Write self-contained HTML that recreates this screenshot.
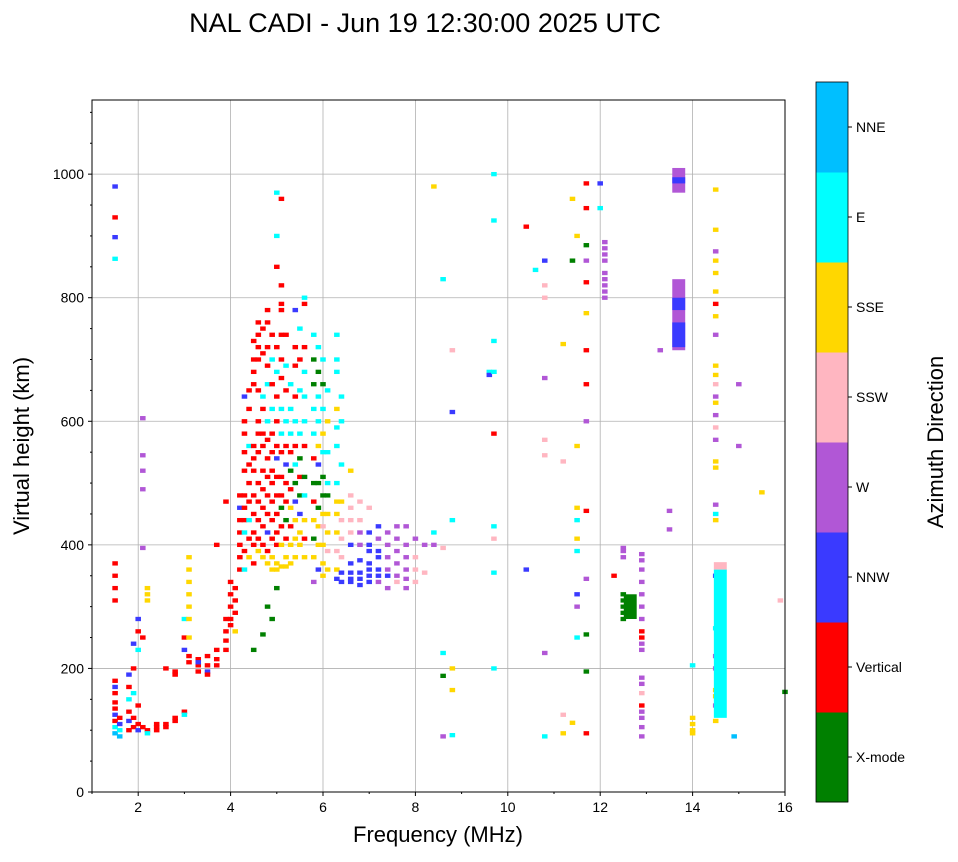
<!DOCTYPE html>
<html><head><meta charset="utf-8"><style>
body{margin:0;background:#fff;}
svg text{font-family:"Liberation Sans",sans-serif;}
</style></head><body>
<svg id="chart" width="958" height="857" viewBox="0 0 958 857" xmlns="http://www.w3.org/2000/svg">
<text x="425" y="32" font-size="27" text-anchor="middle">NAL CADI - Jun 19 12:30:00 2025 UTC</text>
<g id="grid"></g>
<g id="marks"></g>
<rect x="92" y="100" width="693" height="692" fill="none" stroke="#000" stroke-width="1"/>
<g id="axes"></g>
<text x="438" y="842" font-size="22" text-anchor="middle">Frequency (MHz)</text>
<text transform="translate(29,446) rotate(-90)" font-size="22" text-anchor="middle">Virtual height (km)</text>
<g id="cbar"></g>
<text transform="translate(943,442) rotate(-90)" font-size="22" text-anchor="middle">Azimuth Direction</text>
</svg>
<script>
const dirLabels=["X-mode","Vertical","NNW","W","SSW","SSE","E","NNE"];
const dirColors=["#008000","#ff0000","#3a3aff","#b157d6","#ffb6c1","#ffd700","#00ffff","#00bfff"];
const xTicks=[2,4,6,8,10,12,14,16];
const yTicks=[0,200,400,600,800,1000];
// raw points: frequency (MHz) followed by height/direction pairs
const pointGroups=[
[1.5,980,2,930,1,898,2,863,6,370,1,350,1,330,1,310,1,180,1,170,2,160,1,145,1,135,1,125,2,115,1,105,6,95,7],
[1.6,120,1,110,2,100,6,90,7],
[1.8,190,2,170,1,150,6,130,1,115,2,100,1],
[1.9,240,2,200,1,160,6,120,1,105,1],
[2.0,280,2,260,1,230,6,140,1,110,1,100,2],
[2.1,605,3,545,3,520,3,490,3,395,3,250,1,105,1],
[2.2,330,5,320,5,310,5,100,1,95,6],
[2.4,110,1,105,1,100,1],
[2.6,200,1,110,1,105,1],
[2.8,195,1,190,1,120,1,115,1],
[3.0,280,6,250,1,230,2,130,1,125,6],
[3.1,380,5,360,5,340,5,320,5,300,5,280,5,250,5,220,1,210,1],
[3.3,215,1,205,1,195,1,210,2],
[3.5,220,1,205,1,195,2,190,1],
[3.7,400,1,230,1,215,1,205,1],
[3.9,470,1,280,1,260,1,245,1,230,1],
[4.0,340,1,320,1,300,1,280,1,270,1],
[4.1,330,1,310,1,290,1,260,5],
[4.2,480,1,460,2,440,1,420,1,400,1,380,1,360,1],
[4.3,640,2,600,1,580,1,550,1,520,1,480,1,460,1,440,1,420,6,390,1,360,6],
[4.4,650,1,620,1,560,6,530,1,500,1,470,1,440,6,410,1,380,5],
[4.5,730,1,700,1,680,1,660,1,560,1,540,1,520,1,480,1,450,1,420,1,400,1,370,1,230,0],
[4.6,760,1,740,1,720,1,700,1,650,1,600,1,580,1,550,1,500,1,470,1,440,1,410,1,390,5],
[4.7,750,1,710,1,640,6,620,1,580,1,560,1,520,1,490,1,460,1,430,1,400,1,380,5,255,0],
[4.8,780,1,760,1,720,1,690,1,660,6,600,6,570,1,540,1,510,1,480,1,450,1,420,2,390,1,370,5,300,0],
[4.9,740,1,700,6,660,1,620,6,580,1,550,1,520,1,500,1,470,1,440,1,410,1,380,5,360,5,280,0],
[5.0,970,6,900,6,850,1,720,1,680,6,640,1,600,1,560,1,540,2,510,1,480,1,450,1,420,1,400,1,370,5,360,5,330,0],
[5.1,960,1,820,1,790,1,780,1,740,1,700,1,670,1,620,6,580,6,550,1,510,1,480,1,460,0,430,1,400,5,365,5],
[5.2,740,1,690,6,650,1,600,6,560,1,530,2,500,1,470,1,440,0,410,1,380,5,365,5],
[5.3,660,6,620,6,580,6,550,1,520,0,490,1,460,5,430,1,400,5,370,5],
[5.4,780,2,720,1,690,1,640,1,600,6,560,1,530,6,500,0,470,2,440,5,410,5,380,5],
[5.5,750,6,700,1,650,6,580,6,540,0,510,1,480,0,450,2,420,5,400,5],
[5.6,800,6,790,1,720,1,680,6,640,6,600,6,560,1,510,0,480,6,440,5,410,1,380,5],
[5.8,740,6,700,0,660,0,620,6,580,6,540,1,500,0,470,1,440,5,410,0,380,5,340,3],
[5.9,720,6,680,0,640,6,600,6,560,5,530,2,500,0,460,0,430,5,400,5,360,2],
[6.0,700,6,660,0,620,6,580,5,550,6,510,0,480,0,450,5,430,4,400,5,370,5,350,5],
[6.1,650,6,600,5,550,6,500,6,480,0,450,5,420,5,390,4,360,5],
[6.3,740,6,700,6,680,6,620,5,590,6,560,6,500,6,470,5,450,5,420,5,390,4,360,5,345,2],
[6.4,640,6,600,6,530,6,470,5,440,4,410,4,380,4,355,2,340,2],
[6.6,520,5,480,4,460,4,440,4,420,4,400,2,370,2,355,2,345,2,340,2],
[6.8,470,4,440,4,420,3,400,3,375,2,355,2,345,2,335,2],
[7.0,460,4,420,2,400,2,390,2,370,2,360,2,350,2,340,2],
[7.2,430,2,410,3,390,2,380,2,360,2,350,2,340,3],
[7.4,420,3,400,3,380,3,360,3,350,2,330,3],
[7.6,430,3,410,3,390,3,370,3,350,3,340,4],
[7.8,430,3,400,3,380,3,360,3,345,3,330,3],
[8.0,410,3,380,4,360,4,340,4],
[8.2,400,3,355,4],
[8.4,980,5,420,6,400,3],
[8.6,830,6,395,4,225,6,188,0,90,3],
[8.8,715,4,615,2,440,6,200,5,165,5,92,6],
[9.6,680,6,675,2],
[9.7,1000,6,925,6,730,6,680,6,580,1,430,6,410,4,355,6,200,6],
[10.4,915,1,360,2],
[10.6,845,6],
[10.8,860,2,820,4,800,4,670,3,570,4,545,4,225,3,90,6],
[11.2,725,5,535,4,125,4,95,5],
[11.4,960,5,860,0,112,5],
[11.5,900,5,560,5,460,5,440,6,410,5,390,6,320,2,300,3,250,6],
[11.7,985,1,945,1,885,0,860,3,825,1,775,5,715,1,660,1,600,3,455,1,345,3,255,0,195,0,95,1],
[12.0,985,2,945,6],
[12.1,890,3,880,3,870,3,860,3,840,3,830,3,820,3,810,3,800,3],
[12.3,350,1],
[12.5,395,3,390,3,380,3,320,0,310,0,300,0,290,0,280,0],
[12.9,385,3,375,3,360,3,340,3,320,3,300,3,280,3,260,1,250,1,240,3,230,3,185,3,175,3,160,4,140,1,130,3,120,3,105,3,90,3],
[13.3,715,3],
[13.5,455,3,425,3],
[14.5,975,5,910,5,875,3,860,5,840,5,810,5,790,1,770,5,740,3,690,5,675,5,660,4,640,3,630,5,610,3,590,4,570,3,535,5,525,5,465,3,450,6,440,5,350,2,265,6,220,3,200,3,165,5,155,5,140,3,115,5],
[14.0,205,6,120,5,110,5,100,5,95,5],
[14.9,90,7],
[15.0,660,3,560,3],
[15.5,485,5],
[15.9,310,4],
[16.0,162,0]
];
const barFreq=[14.6,14.6,13.7,13.7,13.7,13.7,13.7,12.65];
const barLow=[120,360,715,720,780,970,985,280];
const barHigh=[360,372,830,760,800,1010,995,320];
const barDir=[6,4,3,2,2,3,2,0];

const X0=92,X1=785,Y0=792,Y1=100,FMIN=1,FMAX=16,HMAX=1120;
const xs=f=>X0+(f-FMIN)/(FMAX-FMIN)*(X1-X0);
const ys=h=>Y0-h/HMAX*(Y0-Y1);
const NS="http://www.w3.org/2000/svg";
function mk(tag,attrs,parent){const e=document.createElementNS(NS,tag);for(const k in attrs)e.setAttribute(k,attrs[k]);parent.appendChild(e);return e;}
const grid=document.getElementById('grid'),axes=document.getElementById('axes'),marks=document.getElementById('marks'),cbar=document.getElementById('cbar');
xTicks.forEach(t=>{
 const l=mk('line',{x1:xs(t),x2:xs(t),y1:Y1,y2:Y0,stroke:'#b0b0b0','stroke-width':0.8},grid);
 
 
 mk('line',{x1:xs(t),x2:xs(t),y1:Y0,y2:Y0+4,stroke:'#000'},axes);
 const tx=mk('text',{x:xs(t),y:Y0+20,'font-size':14,'text-anchor':'middle'},axes);tx.textContent=t;
 
 
});
yTicks.forEach(t=>{
 const l=mk('line',{x1:X0,x2:X1,y1:ys(t),y2:ys(t),stroke:'#b0b0b0','stroke-width':0.8},grid);
 
 
 mk('line',{x1:X0-4,x2:X0,y1:ys(t),y2:ys(t),stroke:'#000'},axes);
 const tx=mk('text',{x:X0-8,y:ys(t)+5,'font-size':14,'text-anchor':'end'},axes);tx.textContent=t;
 
 
});
for(let h=50;h<HMAX;h+=50){if(h%200)mk('line',{x1:X0-2,x2:X0,y1:ys(h),y2:ys(h),stroke:'#000'},axes);}
for(let f=1;f<=16;f++){if(f%2)mk('line',{x1:xs(f),x2:xs(f),y1:Y0,y2:Y0+2,stroke:'#000'},axes);}
const W=xs(1.12)-xs(1),DH=7;
pointGroups.forEach(g=>{
 const f=g[0];
 for(let i=1;i<g.length;i+=2){
  const h=g[i],c=g[i+1];
  const r=mk('rect',{x:xs(f)-W/2,y:ys(h+DH/2),width:W,height:ys(0)-ys(DH),fill:dirColors[c]},marks);
  
  
 }
});
barFreq.forEach((f,i)=>{
 const w=xs(1.28)-xs(1);
 const r=mk('rect',{x:xs(f)-w/2,y:ys(barHigh[i]),width:w,height:ys(barLow[i])-ys(barHigh[i]),fill:dirColors[barDir[i]]},marks);
 
 
});
const CB_X=816,CB_W=32,CB_TOP=82,CB_BOT=802,n=dirLabels.length,bh=(CB_BOT-CB_TOP)/n;
dirLabels.forEach((lab,i)=>{
 const y=CB_BOT-(i+1)*bh;
 const r=mk('rect',{x:CB_X,y:y,width:CB_W,height:bh+0.5,fill:dirColors[i]},cbar);
 
 
 mk('line',{x1:CB_X+CB_W,x2:CB_X+CB_W+4,y1:y+bh/2,y2:y+bh/2,stroke:'#000'},cbar);
 const t=mk('text',{x:CB_X+CB_W+8,y:y+bh/2+5,'font-size':14},cbar);t.textContent=lab;
 
 
});
mk('rect',{x:CB_X,y:CB_TOP,width:CB_W,height:CB_BOT-CB_TOP,fill:'none',stroke:'#000','stroke-width':0.8},cbar);
</script>
</body></html>
